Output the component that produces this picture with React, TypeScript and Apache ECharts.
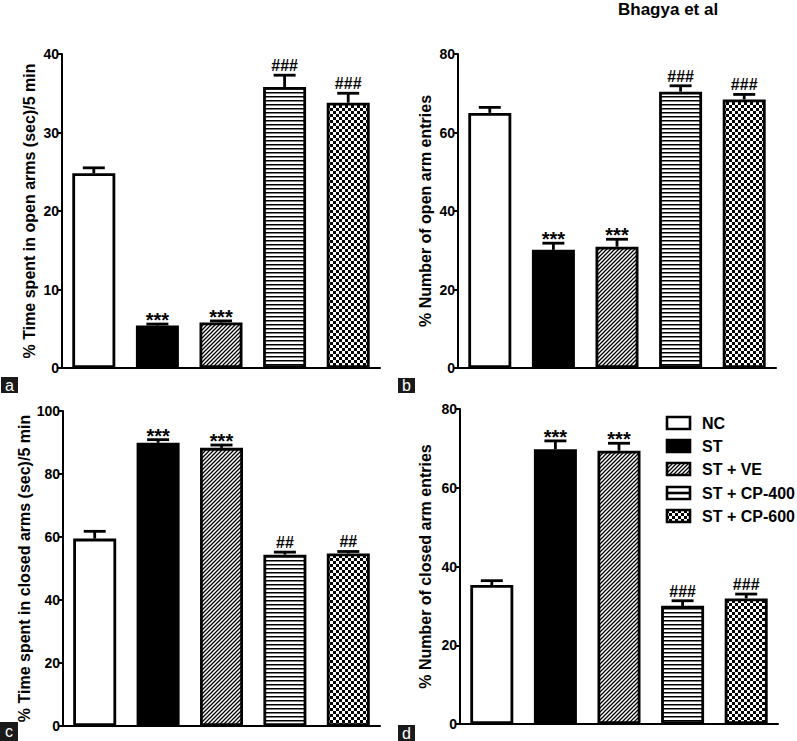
import React, { useEffect, useRef } from 'react';
import * as echarts from 'echarts';

const categories = ['NC', 'ST', 'ST + VE', 'ST + CP-400', 'ST + CP-600'];

const openTimeMean = [24.8, 5.4, 5.8, 35.8, 33.8];
const openTimeSem = [0.7, 0.2, 0.2, 1.5, 1.2];
const openTimeMarks = ['', '***', '***', '###', '###'];

const openEntriesMean = [65.0, 30.1, 30.9, 70.4, 68.4];
const openEntriesSem = [1.4, 1.7, 1.9, 1.5, 1.3];
const openEntriesMarks = ['', '***', '***', '###', '###'];

const closedTimeMean = [59.5, 89.9, 88.3, 54.4, 54.8];
const closedTimeSem = [2.3, 1.0, 0.9, 0.8, 0.6];
const closedTimeMarks = ['', '***', '***', '##', '##'];

const closedEntriesMean = [35.3, 69.8, 69.4, 30.0, 31.9];
const closedEntriesSem = [1.1, 2.1, 1.9, 1.3, 1.1];
const closedEntriesMarks = ['', '***', '***', '###', '###'];

const FONT = '"Liberation Sans", Arial, Helvetica, sans-serif';

function svgTile(w: number, h: number, body: string) {
  const s = `<svg xmlns="http://www.w3.org/2000/svg" width="${w}" height="${h}">${body}</svg>`;
  return {
    image: 'data:image/svg+xml;base64,' + btoa(s),
    repeat: 'repeat',
    imageWidth: w,
    imageHeight: h,
  };
}

const diagPattern = svgTile(
  4,
  4,
  '<rect width="4" height="4" fill="white"/><path d="M-1,1 L1,-1 M0,4 L4,0 M3,5 L5,3" stroke="black" stroke-width="1.3"/>'
);
const hLinePattern = svgTile(
  4,
  4,
  '<rect width="4" height="4" fill="white"/><rect y="0" width="4" height="1.5" fill="black"/>'
);
const checkerPattern = svgTile(
  6,
  6,
  '<rect width="6" height="6" fill="white" shape-rendering="crispEdges"/><rect x="0" y="0" width="3" height="3" fill="black" shape-rendering="crispEdges"/><rect x="3" y="3" width="3" height="3" fill="black" shape-rendering="crispEdges"/>'
);

const fills: any[] = ['#ffffff', '#000000', diagPattern, hLinePattern, checkerPattern];

export default function App() {
  const ref = useRef<HTMLDivElement>(null);

  useEffect(() => {
    document.body.style.margin = '0';
    const chart = echarts.init(ref.current!, null, { renderer: 'svg', width: 797, height: 741 });

    const panels = [
      {
        mean: openTimeMean, sem: openTimeSem, marks: openTimeMarks, max: 40, interval: 10,
        name: '% Time spent in open arms (sec)/5 min', nameGap: 25,
        grid: { left: 62, top: 54, width: 318, height: 314 },
      },
      {
        mean: openEntriesMean, sem: openEntriesSem, marks: openEntriesMarks, max: 80, interval: 20,
        name: '% Number of open arm entries', nameGap: 25,
        grid: { left: 458, top: 54, width: 318, height: 314 },
      },
      {
        mean: closedTimeMean, sem: closedTimeSem, marks: closedTimeMarks, max: 100, interval: 20,
        name: '% Time spent in closed arms (sec)/5 min', nameGap: 29,
        grid: { left: 63, top: 411, width: 317, height: 315 },
      },
      {
        mean: closedEntriesMean, sem: closedEntriesSem, marks: closedEntriesMarks, max: 80, interval: 20,
        name: '% Number of closed arm entries', nameGap: 27,
        grid: { left: 460, top: 409, width: 318, height: 315 },
      },
    ];

    const grid = panels.map((p) => ({ ...p.grid, containLabel: false }));
    const xAxis = panels.map((_, k) => ({
      type: 'category',
      gridIndex: k,
      data: categories,
      axisLine: { show: true, lineStyle: { color: '#000', width: 2 } },
      axisTick: { show: false },
      axisLabel: { show: false },
      splitLine: { show: false },
    }));
    const yAxis = panels.map((p, k) => ({
      type: 'value',
      gridIndex: k,
      min: 0,
      max: p.max,
      interval: p.interval,
      name: p.name,
      nameLocation: 'middle',
      nameGap: p.nameGap,
      nameRotate: 90,
      nameTextStyle: { fontFamily: FONT, fontWeight: 'bold', fontSize: 16, color: '#000' },
      axisLine: { show: true, lineStyle: { color: '#000', width: 2 } },
      axisTick: { show: true, length: 5, lineStyle: { color: '#000', width: 2 } },
      axisLabel: { fontFamily: FONT, fontWeight: 'bold', fontSize: 14, color: '#000', margin: 3 },
      splitLine: { show: false },
    }));

    const series: any[] = [];
    panels.forEach((p, k) => {
      series.push({
        type: 'bar',
        xAxisIndex: k,
        yAxisIndex: k,
        barWidth: 43,
        data: p.mean.map((v, i) => ({
          value: v,
          itemStyle: { color: fills[i], borderColor: '#000', borderWidth: 2.8 },
        })),
        z: 2,
      });
      series.push({
        type: 'custom',
        xAxisIndex: k,
        yAxisIndex: k,
        z: 3,
        data: p.mean.map((v, i) => [i, v, p.sem[i]]),
        renderItem: (params: any, api: any) => {
          const i = api.value(0);
          const m = api.value(1);
          const e = api.value(2);
          const p0 = api.coord([i, m]);
          const p1 = api.coord([i, m + e]);
          const mark = p.marks[params.dataIndex];
          const children: any[] = [
            { type: 'line', shape: { x1: p0[0], y1: p0[1], x2: p1[0], y2: p1[1] }, style: { stroke: '#000', lineWidth: 2.8 } },
            { type: 'line', shape: { x1: p1[0] - 11, y1: p1[1], x2: p1[0] + 11, y2: p1[1] }, style: { stroke: '#000', lineWidth: 2.8 } },
          ];
          if (mark) {
            const star = mark[0] === '*';
            children.push({
              type: 'text',
              style: {
                text: mark,
                x: p1[0],
                y: p1[1] - (star ? 4 : 9.5),
                align: 'center',
                verticalAlign: 'middle',
                fontFamily: FONT,
                fontWeight: 'bold',
                fontSize: star ? 20 : 16,
                fill: '#000',
              },
            });
          }
          return { type: 'group', children };
        },
      });
    });

    const legendRows = [423, 446, 469, 493, 516];
    const graphic: any[] = [];
    categories.forEach((c, i) => {
      const cy = legendRows[i];
      graphic.push({
        type: 'rect',
        shape: { x: 667, y: cy - 6, width: 23, height: 12 },
        style: { fill: i === 3 ? '#fff' : fills[i], stroke: '#000', lineWidth: 2.6 },
      });
      if (i === 3) {
        graphic.push({
          type: 'line',
          shape: { x1: 667, y1: cy, x2: 690, y2: cy },
          style: { stroke: '#000', lineWidth: 2.6 },
        });
      }
      graphic.push({
        type: 'text',
        style: {
          text: c, x: 702, y: cy, verticalAlign: 'middle',
          fontFamily: FONT, fontWeight: 'bold', fontSize: 16, fill: '#000',
        },
      });
    });

    const letters = [
      { t: 'a', x: 1, y: 377, w: 17, h: 16 },
      { t: 'b', x: 398, y: 378, w: 17, h: 15 },
      { t: 'c', x: 0, y: 722, w: 18, h: 19 },
      { t: 'd', x: 398, y: 725, w: 17, h: 16 },
    ];
    letters.forEach((l) => {
      graphic.push({ type: 'rect', shape: { x: l.x, y: l.y, width: l.w, height: l.h }, style: { fill: '#1a1a1a' } });
      graphic.push({
        type: 'text',
        style: {
          text: l.t, x: l.x + l.w / 2, y: l.y + l.h / 2, align: 'center', verticalAlign: 'middle',
          fontFamily: FONT, fontSize: 16, fill: '#fff',
        },
      });
    });

    graphic.push({
      type: 'text',
      style: {
        text: 'Bhagya et al', x: 618, y: 9, verticalAlign: 'middle',
        fontFamily: FONT, fontWeight: 'bold', fontSize: 17, fill: '#000',
      },
    });

    chart.setOption({
      animation: false,
      backgroundColor: '#fff',
      grid,
      xAxis,
      yAxis,
      series,
      graphic,
    });

    return () => chart.dispose();
  }, []);

  return <div ref={ref} style={{ width: 797, height: 741 }} />;
}
